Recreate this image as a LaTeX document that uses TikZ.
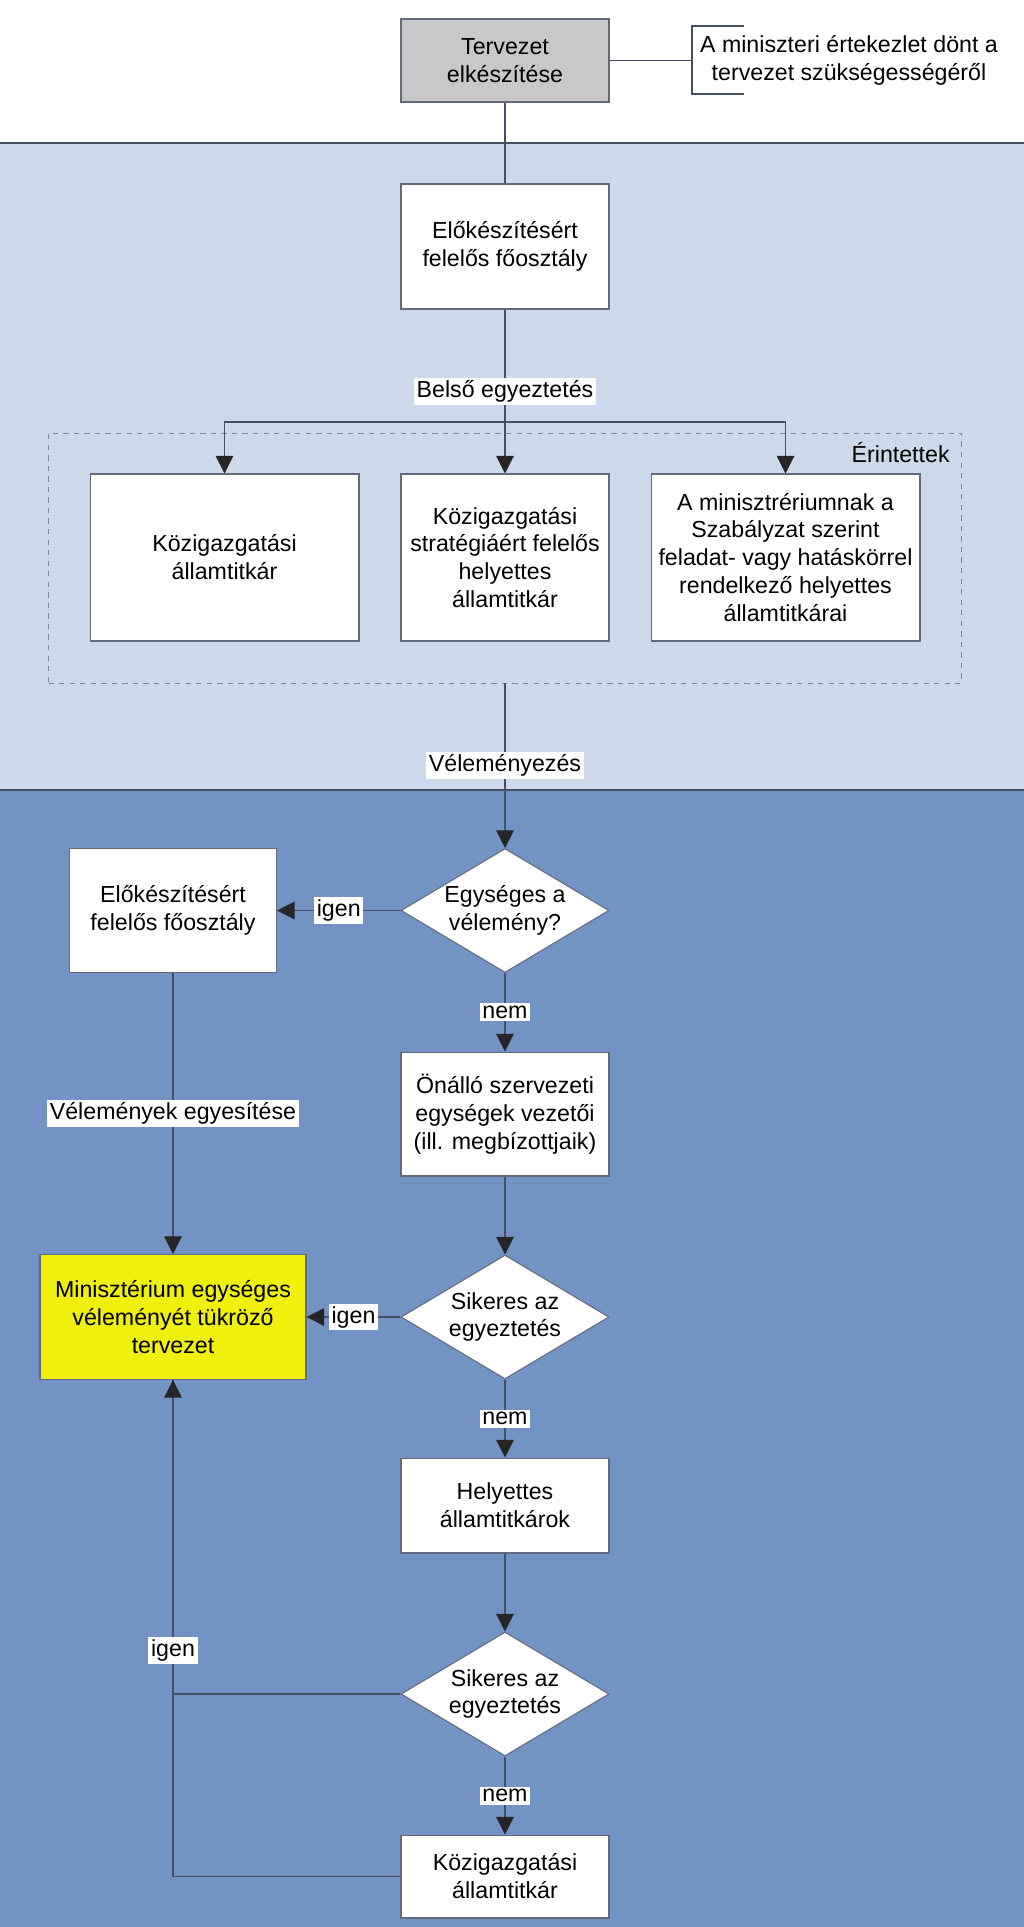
\documentclass[tikz,border=0pt]{standalone}
\usepackage{fontspec}
\setmainfont{Liberation Sans}
\usepackage{xcolor}
\usepackage{tikz}
\usetikzlibrary{shapes.geometric,arrows.meta,positioning}

\definecolor{sav1}{RGB}{204,217,234}
\definecolor{sav2}{RGB}{114,147,195}
\definecolor{szurke}{RGB}{200,200,200}
\definecolor{sarga}{RGB}{240,240,15}
\definecolor{vonal}{RGB}{70,80,100}

\tikzset{
    doboz/.style={draw=vonal!85, fill=white, text=black, align=center, inner sep=2pt, minimum width=4.16cm},
    dontes/.style={draw=vonal!85, fill=white, text=black, diamond, aspect=1.68, inner sep=0pt, align=center, minimum width=4.16cm, minimum height=2.48cm},
    felirat/.style={fill=white, text=black, inner sep=1.5pt},
    kapcs/.style={draw=vonal},
    nyil/.style={draw=vonal, -{Triangle[width=10pt,length=10pt,color=black!85]}},
}

\begin{document}
\begin{tikzpicture}[x=0.02cm, y=-0.02cm, line width=0.6pt, font=\fontsize{13.2}{15.9}\selectfont]
    \useasboundingbox (0,0) rectangle (1024,1927);
    % Savok
    \fill[white] (0,0) rectangle (1024,143);
    \fill[sav1] (0,143) rectangle (1024,790);
    \fill[sav2] (0,790) rectangle (1024,1927);
    \draw[kapcs] (0,143) -- (1024,143);
    \draw[kapcs] (0,790) -- (1024,790);

    % Tervezet
    \node[doboz, fill=szurke, minimum height=1.66cm] (tervezet) at (505,60.5) {Tervezet\\elkészítése};
    \node[text=black, align=center] (megj) at (849,60.5) {A miniszteri értekezlet dönt a\\tervezet szükségességéről};
    \coordinate (zarojel) at (692,60.5);
    \draw[kapcs] (744,26) -- (692,26) -- (692,94) -- (744,94);
    \draw[kapcs] (tervezet) -- (zarojel);

    % Belso egyeztetes
    \node[doboz, minimum height=2.5cm] (elok) at (505,246.5) {Előkészítésért\\felelős főosztály};
    \draw[kapcs] (tervezet) -- (elok);
    \node[draw=vonal!70, dashed, line width=0.5pt, minimum width=18.26cm, minimum height=5cm, inner sep=0pt] (erint) at (505,558) {};
    \node[anchor=east, text=black] (erintcim) at (956,453) {Érintettek};
    \node[doboz, minimum width=5.38cm, minimum height=3.34cm] (kozig1) at (224.5,557.5) {Közigazgatási\\államtitkár};
    \node[doboz, minimum height=3.34cm] (strat) at (505,557.5) {Közigazgatási\\stratégiáért felelős\\helyettes\\államtitkár};
    \node[doboz, minimum width=5.38cm, minimum height=3.34cm] (minist) at (785.5,557.5) {A minisztrériumnak a\\Szabályzat szerint\\feladat- vagy hatáskörrel\\rendelkező helyettes\\államtitkárai};
    \coordinate (elag) at (505,422);
    \draw[nyil] (elok) -- node[felirat] {Belső egyeztetés} (strat);
    \draw[nyil] (elag) -| (kozig1);
    \draw[nyil] (elag) -| (minist);

    % Velemenyezes
    \node[dontes] (dontes1) at (505,910.5) {Egységes a\\vélemény?};
    \draw[nyil] (erint) -- node[felirat] {Véleményezés} (dontes1);
    \node[doboz, minimum width=4.14cm, minimum height=2.48cm] (elok2) at (173,910.5) {Előkészítésért\\felelős főosztály};
    \node[doboz, minimum height=2.48cm] (onallo) at (505,1114) {Önálló szervezeti\\egységek vezetői\\(ill. megbízottjaik)};
    \node[doboz, fill=sarga, minimum width=5.32cm, minimum height=2.5cm] (egyseges) at (173,1317) {Minisztérium egységes\\véleményét tükröző\\tervezet};
    \node[dontes] (dontes2) at (505,1317) {Sikeres az\\egyeztetés};
    \node[doboz, minimum height=1.9cm] (helyettes) at (505,1505.5) {Helyettes\\államtitkárok};
    \node[dontes] (dontes3) at (505,1694) {Sikeres az\\egyeztetés};
    \node[doboz, minimum height=1.66cm] (kozig2) at (505,1876.5) {Közigazgatási\\államtitkár};

    \draw[nyil] (dontes1) -- node[felirat] {igen} (elok2);
    \draw[nyil] (dontes1) -- node[felirat] {nem} (onallo);
    \draw[nyil] (elok2) -- node[felirat] {Vélemények egyesítése} (egyseges);
    \draw[nyil] (onallo) -- (dontes2);
    \draw[nyil] (dontes2) -- node[felirat] {igen} (egyseges);
    \draw[nyil] (dontes2) -- node[felirat] {nem} (helyettes);
    \draw[nyil] (helyettes) -- (dontes3);
    \draw[nyil] (dontes3) -- node[felirat] {nem} (kozig2);
    \draw[kapcs] (kozig2) -| (egyseges);
    \draw[nyil] (dontes3) -| node[felirat, pos=0.57] {igen} (egyseges);
\end{tikzpicture}
\end{document}
